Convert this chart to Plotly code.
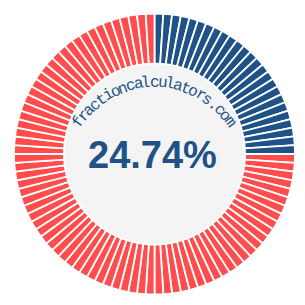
import math
import plotly.graph_objects as go

# ---- data ----
percent = 24.74
segment_count = 100
segment_values = [1] * segment_count
label_text = "24.74%"
site_text = "fractioncalculators.com"

# ---- styles ----
BLUE = "#1f5286"
RED = "#ff4d4d"
CENTER_GRAY = "#f4f4f4"

W = H = 305
ML, MR, MT, MB = 14, 10, 13, 10
PW, PH = W - ML - MR, H - MT - MB

def px_to_paper(x, y):
    return (x - ML) / PW, (H - MB - y) / PH

filled = round(percent * segment_count / 100)
colors = [BLUE if i < filled else RED for i in range(segment_count)]

fig = go.Figure(go.Pie(
    values=segment_values,
    sort=False,
    direction="clockwise",
    rotation=0,
    hole=0.644,
    marker=dict(colors=colors, line=dict(color="white", width=1.8)),
    textinfo="none",
    hoverinfo="skip",
    showlegend=False,
))

# gray center disc
cx, cy, r_in = 154.5, 154.0, 90.0
x0, y0 = px_to_paper(cx - r_in, cy + r_in)
x1, y1 = px_to_paper(cx + r_in, cy - r_in)
fig.add_shape(type="circle", xref="paper", yref="paper", x0=x0, y0=y0, x1=x1, y1=y1,
              fillcolor=CENTER_GRAY, line=dict(width=0), layer="below")

# curved site text
arc_cx, arc_cy, arc_r, step = 154.5, 175.0, 92.0, 5.0
n = len(site_text)
mid = (n - 1) / 2
for i, ch in enumerate(site_text):
    th = (i - mid) * step
    t = math.radians(th)
    px = arc_cx + arc_r * math.sin(t)
    py = arc_cy - arc_r * math.cos(t)
    ax, ay = px_to_paper(px, py)
    fig.add_annotation(x=ax, y=ay, xref="paper", yref="paper", text=ch, showarrow=False,
                       textangle=th, xanchor="center", yanchor="middle",
                       font=dict(family="Courier New, Liberation Mono, monospace", size=16, color=BLUE))

# big percentage
lx, ly = px_to_paper(152, 155)
fig.add_annotation(x=lx, y=ly, xref="paper", yref="paper", text="<b>" + label_text + "</b>",
                   showarrow=False, xanchor="center", yanchor="middle",
                   font=dict(family="Arial, Liberation Sans, sans-serif", size=38, color=BLUE))

fig.update_layout(width=W, height=H, margin=dict(l=ML, r=MR, t=MT, b=MB),
                  paper_bgcolor="white", plot_bgcolor="white")
fig.write_html("out.html")
